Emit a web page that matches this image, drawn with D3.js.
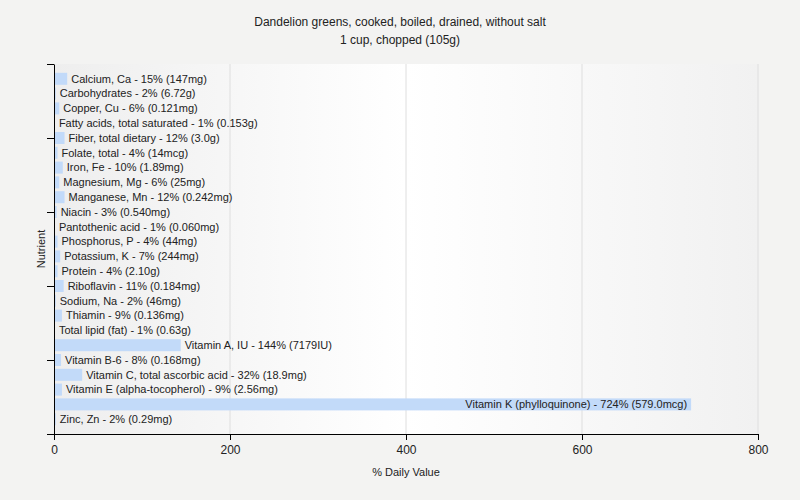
<!DOCTYPE html>
<html>
<head>
<meta charset="utf-8">
<script src="https://cdn.jsdelivr.net/npm/d3@7"></script>
<style>
  body { margin: 0; background: #f3f3f2; }
  svg { display: block; font-family: "Liberation Sans", Arial, sans-serif; }
</style>
</head>
<body>
<svg id="chart" width="800" height="500"></svg>
<script>
// 栄養素データ
const nutrients = [
    "Calcium, Ca", "Carbohydrates", "Copper, Cu", "Fatty acids, total saturated",
    "Fiber, total dietary", "Folate, total", "Iron, Fe", "Magnesium, Mg",
    "Manganese, Mn", "Niacin", "Pantothenic acid", "Phosphorus, P",
    "Potassium, K", "Protein", "Riboflavin", "Sodium, Na", "Thiamin",
    "Total lipid (fat)", "Vitamin A, IU", "Vitamin B-6",
    "Vitamin C, total ascorbic acid", "Vitamin E (alpha-tocopherol)",
    "Vitamin K (phylloquinone)", "Zinc, Zn"
];
const dailyValue = [15, 2, 6, 1, 12, 4, 10, 6, 12, 3, 1, 4, 7, 4, 11, 2, 9, 1, 144, 8, 32, 9, 724, 2];
const amounts = [
    "147mg", "6.72g", "0.121mg", "0.153g", "3.0g", "14mcg", "1.89mg", "25mg",
    "0.242mg", "0.540mg", "0.060mg", "44mg", "244mg", "2.10g", "0.184mg", "46mg",
    "0.136mg", "0.63g", "7179IU", "0.168mg", "18.9mg", "2.56mg", "579.0mcg", "0.29mg"
];
const xTicks = [0, 200, 400, 600, 800];
const yTickIndex = [-1, 4, 9, 14, 19, 24];

const svg = d3.select("#chart");
const plot = {left: 54, right: 758, top: 64, bottom: 434};

// スケール
const x = d3.scaleLinear().domain([0, 800]).range([plot.left, plot.right]);
const y = d3.scaleLinear().domain([-1, 24]).range([plot.top, plot.bottom]);
const barH = 12;

// 背景グラデーション
const grad = svg.append("defs").append("linearGradient").attr("id", "bg");
grad.append("stop").attr("offset", "0%").attr("stop-color", "#eeeeee");
grad.append("stop").attr("offset", "50%").attr("stop-color", "#ffffff");
grad.append("stop").attr("offset", "100%").attr("stop-color", "#f1f1f1");

svg.append("rect")
    .attr("x", plot.left).attr("y", plot.top)
    .attr("width", plot.right - plot.left).attr("height", plot.bottom - plot.top)
    .attr("fill", "url(#bg)");

// グリッド線
svg.append("g").selectAll("line")
    .data(xTicks.slice(1))
    .enter().append("line")
    .attr("x1", d => x(d)).attr("x2", d => x(d))
    .attr("y1", plot.top).attr("y2", plot.bottom)
    .attr("stroke", "#dedede").attr("stroke-width", 1);

// タイトル
svg.append("text").attr("x", 400).attr("y", 26).attr("text-anchor", "middle")
    .style("font-size", "12px").attr("fill", "#222")
    .text("Dandelion greens, cooked, boiled, drained, without salt");
svg.append("text").attr("x", 400).attr("y", 44).attr("text-anchor", "middle")
    .style("font-size", "12px").attr("fill", "#222")
    .text("1 cup, chopped (105g)");

// バー
svg.append("g").selectAll("rect")
    .data(dailyValue)
    .enter().append("rect")
    .attr("x", x(0))
    .attr("y", (d, i) => y(i) - barH / 2)
    .attr("width", d => x(d) - x(0))
    .attr("height", barH)
    .attr("fill", "#c2daf9");

// ラベル
svg.append("g").selectAll("text")
    .data(dailyValue)
    .enter().append("text")
    .attr("y", (d, i) => y(i))
    .attr("dy", "0.35em")
    .style("font-size", "11px")
    .attr("fill", "#222")
    .text((d, i) => `${nutrients[i]} - ${d}% (${amounts[i]})`)
    .each(function(d) {
        const w = this.getComputedTextLength();
        const end = x(d);
        if (end + 4 + w > plot.right) {
            d3.select(this).attr("x", end - 4).attr("text-anchor", "end");
        } else {
            d3.select(this).attr("x", end + 4).attr("text-anchor", "start");
        }
    });

// X軸
const xAxis = svg.append("g")
    .attr("transform", `translate(0,${plot.bottom})`)
    .call(d3.axisBottom(x).tickValues(xTicks).tickSize(6).tickSizeOuter(0));
xAxis.select(".domain").attr("stroke", "#000");
xAxis.selectAll(".tick line").attr("stroke", "#000");
xAxis.selectAll(".tick text").style("font-size", "12px")
    .style("font-family", "Liberation Sans, Arial, sans-serif").attr("fill", "#222").attr("dy", "0.9em");

// Y軸
const yAxis = svg.append("g")
    .attr("transform", `translate(${plot.left},0)`)
    .call(d3.axisLeft(y).tickValues(yTickIndex).tickFormat("").tickSize(7).tickSizeOuter(0));
yAxis.select(".domain").attr("stroke", "#000");
yAxis.selectAll(".tick line").attr("stroke", "#000");

// 軸タイトル
svg.append("text").attr("x", (plot.left + plot.right) / 2).attr("y", 476)
    .attr("text-anchor", "middle").style("font-size", "11px").attr("fill", "#222")
    .text("% Daily Value");
svg.append("text")
    .attr("transform", `translate(45,${(plot.top + plot.bottom) / 2}) rotate(-90)`)
    .attr("text-anchor", "middle").style("font-size", "11px").attr("fill", "#222")
    .text("Nutrient");
</script>
</body>
</html>
